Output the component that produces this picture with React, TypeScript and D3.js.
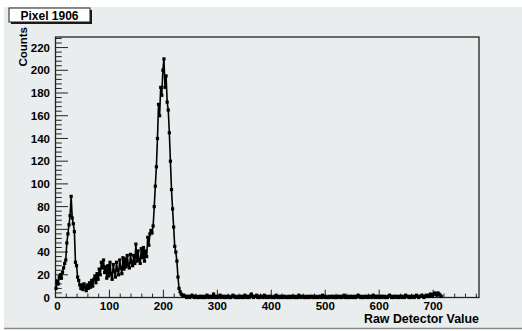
import React from 'react';
import * as d3 from 'd3';

const titleText = 'Pixel 1906';
const xTitle = 'Raw Detector Value';
const yTitle = 'Counts';
const binWidth = 2;

// counts per 2-unit bin, 0 .. 234
const peakCounts = [
  8, 14, 12, 18, 20, 17, 22, 26, 30, 33, 48, 56, 64, 72, 89, 70, 65, 58, 31, 28,
  18, 15, 11, 8, 11, 7, 12, 9, 6, 11, 8, 13, 9, 15, 10, 16, 19, 13, 21, 16,
  25, 20, 31, 26, 33, 22, 27, 17, 28, 19, 31, 21, 16, 29, 23, 18, 31, 24, 20, 33,
  26, 21, 35, 25, 34, 27, 37, 29, 26, 38, 31, 28, 37, 30, 47, 32, 41, 33, 30, 43,
  35, 44, 32, 41, 36, 53, 46, 56, 59, 57, 63, 80, 98, 115, 140, 170, 160, 185, 178, 200,
  210, 185, 195, 172, 165, 145, 120, 95, 78, 62, 45, 40, 32, 18, 8, 5, 3, 2,
];

// counts per 2-unit bin, 236 .. 714
const tailCounts = [
  2, 1, 1, 0, 1, 1, 0, 1, 2, 1, 0, 1, 1, 0, 0, 1, 1, 0, 1, 0,
  1, 0, 2, 1, 0, 1, 1, 0, 3, 1, 0, 1, 0, 1, 2, 0, 1, 1, 0, 1,
  0, 1, 1, 0, 0, 1, 2, 1, 0, 1, 0, 0, 1, 1, 0, 1, 0, 2, 1, 0,
  1, 0, 1, 3, 1, 0, 1, 1, 2, 0, 1, 0, 1, 1, 0, 2, 1, 0, 1, 0,
  1, 1, 0, 0, 1, 0, 2, 1, 0, 1, 0, 1, 0, 1, 1, 0, 0, 1, 0, 1,
  0, 1, 1, 0, 1, 0, 0, 2, 1, 0, 1, 1, 0, 0, 1, 0, 1, 0, 1, 1,
  0, 1, 0, 1, 0, 0, 1, 1, 0, 2, 1, 0, 1, 0, 0, 1, 0, 1, 1, 0,
  1, 0, 0, 1, 1, 0, 1, 0, 1, 2, 0, 1, 0, 0, 1, 1, 0, 1, 0, 1,
  0, 1, 2, 1, 0, 1, 0, 0, 1, 1, 0, 1, 0, 1, 1, 0, 2, 1, 0, 1,
  1, 0, 1, 0, 1, 1, 0, 1, 0, 0, 1, 2, 1, 0, 1, 0, 1, 1, 0, 1,
  0, 1, 1, 0, 1, 0, 2, 1, 1, 0, 1, 0, 1, 1, 0, 1, 2, 1, 0, 1,
  1, 2, 1, 0, 1, 2, 1, 2, 1, 3, 2, 1, 3, 4, 3, 2, 4, 3, 2, 1,
];

const xTicks = [0, 100, 200, 300, 400, 500, 600, 700];
const yTicks = [0, 20, 40, 60, 80, 100, 120, 140, 160, 180, 200, 220];

const W = 522, H = 331;
const frame = { left: 55.5, right: 479, top: 37, bottom: 297.5 };
const padColor = '#e9eded';
const font = '"Liberation Sans", Arial, Helvetica, sans-serif';

type Bin = { x: number; c: number };

export default function App() {
  const counts = [...peakCounts, ...tailCounts];
  const bins: Bin[] = counts.map((c, i) => ({ x: (i + 0.5) * binWidth, c }));

  const x = d3.scaleLinear().domain([0, 785]).range([frame.left, frame.right]);
  const y = d3.scaleLinear().domain([0, 229.3]).range([frame.bottom, frame.top]);

  const line = d3.line<Bin>().x(d => x(d.x)).y(d => y(d.c));

  const xMinor = d3.range(0, 785, 20);
  const yMinor = d3.range(0, 229, 4);
  const xMajLen = 7.8, yMajLen = 12.5;

  return (
    <svg width={W} height={H} style={{ position: 'absolute', left: 0, top: 0 }} fontFamily={font}>
      <rect x={0} y={0} width={W} height={H} fill="#ffffff" />
      <rect x={4} y={7} width={W - 4} height={321} fill={padColor} />
      <line x1={4} x2={W} y1={328.5} y2={328.5} stroke="#8a8a8a" strokeWidth={1.5} />

      {/* frame */}
      <rect x={frame.left} y={frame.top} width={frame.right - frame.left} height={frame.bottom - frame.top}
        fill={padColor} stroke="#222" strokeWidth={1.3} />

      {/* y axis ticks */}
      {yMinor.map(t => {
        const major = t % 20 === 0;
        return <line key={'ym' + t} x1={frame.left} x2={frame.left + (major ? yMajLen : yMajLen / 2)}
          y1={y(t)} y2={y(t)} stroke="#222" strokeWidth={1} />;
      })}
      {yTicks.map(t => (
        <text key={'yl' + t} x={50} y={y(t)} dy="0.36em" textAnchor="end" fontSize={11.5}
          fontWeight="bold" fill="#000">{t}</text>
      ))}

      {/* x axis ticks */}
      {xMinor.map(t => {
        const major = t % 100 === 0;
        return <line key={'xm' + t} x1={x(t)} x2={x(t)} y1={frame.bottom}
          y2={frame.bottom - (major ? xMajLen : xMajLen / 2)} stroke="#222" strokeWidth={1} />;
      })}
      {xTicks.map(t => (
        <text key={'xl' + t} x={x(t) + (t === 0 ? 2 : 0)} y={310} textAnchor="middle" fontSize={11.5}
          fontWeight="bold" fill="#000">{t}</text>
      ))}

      {/* data: connecting line and markers */}
      <g>
        <path d={line(bins) ?? ''} fill="none" stroke="#000" strokeWidth={1.6} />
        {bins.map((d, i) => (
          <rect key={'m' + i} x={x(d.x) - 1.6} y={y(d.c) - 1.6} width={3.2} height={3.2} fill="#000" />
        ))}
      </g>

      {/* axis titles */}
      <text x={frame.right} y={323} textAnchor="end" fontSize={12.4} fontWeight="bold" fill="#000">{xTitle}</text>
      <text transform="translate(27,27) rotate(-90)" textAnchor="end" fontSize={11.5} fontWeight="bold"
        fill="#000">{yTitle}</text>

      {/* title box */}
      <rect x={11} y={10} width={81} height={14} fill="#1a1a1a" />
      <rect x={9} y={8} width={81} height={14} fill="#ffffff" stroke="#1a1a1a" strokeWidth={1} />
      <text x={49.5} y={19.5} textAnchor="middle" fontSize={12} fontWeight="bold" fill="#000">{titleText}</text>
    </svg>
  );
}
